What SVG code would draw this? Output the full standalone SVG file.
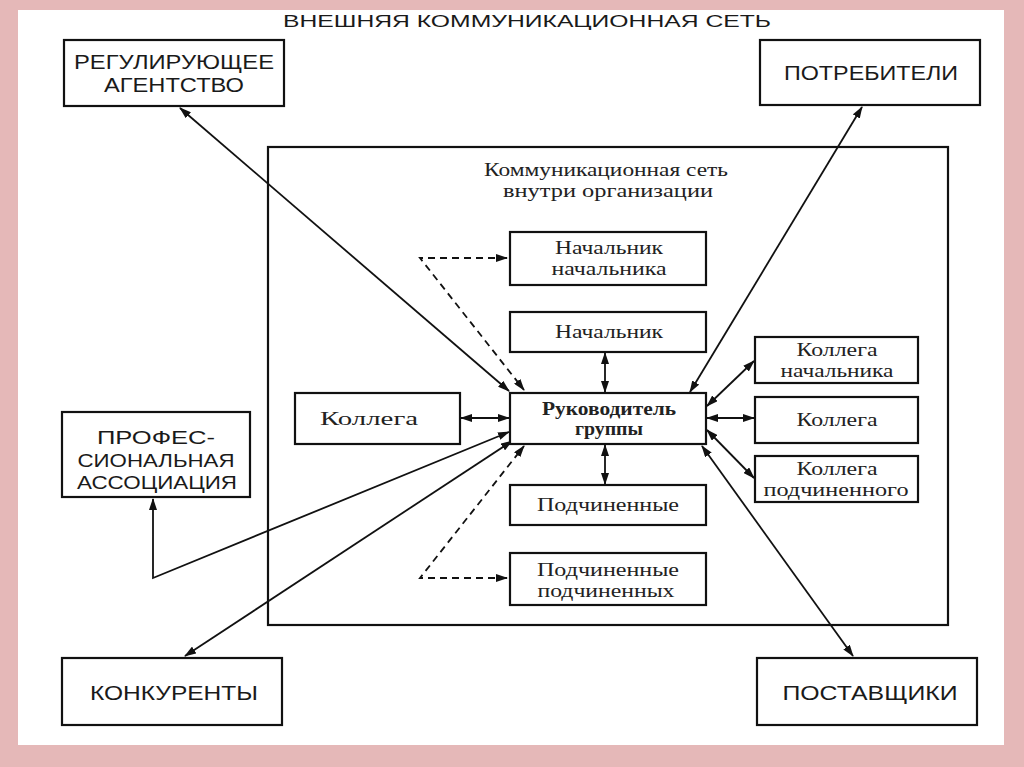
<svg xmlns="http://www.w3.org/2000/svg" width="1024" height="767" viewBox="0 0 1024 767">
<defs>
<marker id="ah" viewBox="0 0 12 8" refX="11" refY="4" markerWidth="12" markerHeight="8" markerUnits="userSpaceOnUse" orient="auto-start-reverse">
<path d="M0,0 L12,4 L0,8 z" fill="#111"/>
</marker>
<style>
.box{fill:#fff;stroke:#111;stroke-width:2.2}
.cap{font-family:"Liberation Sans",Arial,sans-serif;fill:#1a1a1a;text-anchor:middle}
.ser{font-family:"Liberation Serif","Times New Roman",serif;fill:#222;text-anchor:middle;font-size:18px}
.ln{fill:none;stroke:#111;stroke-width:1.8}
.dash{fill:none;stroke:#111;stroke-width:1.8;stroke-dasharray:7 5}
</style>
</defs>
<rect x="0" y="0" width="1024" height="767" fill="#e5b8b8"/>
<rect x="18" y="10" width="986" height="735" fill="#fff"/>

<text class="cap" x="527" y="27" font-size="17" textLength="488" lengthAdjust="spacingAndGlyphs">ВНЕШНЯЯ КОММУНИКАЦИОННАЯ СЕТЬ</text>

<rect x="268" y="147" width="680" height="478" fill="none" stroke="#111" stroke-width="2.2"/>
<text class="ser" x="606" y="176" textLength="244" lengthAdjust="spacingAndGlyphs">Коммуникационная сеть</text>
<text class="ser" x="608" y="197" textLength="210" lengthAdjust="spacingAndGlyphs">внутри организации</text>

<g id="connectors">
<line class="ln" x1="180" y1="108" x2="509" y2="391" marker-start="url(#ah)" marker-end="url(#ah)"/>
<line class="ln" x1="862" y1="107" x2="690" y2="392" marker-start="url(#ah)" marker-end="url(#ah)"/>
<path class="dash" d="M507,258 L420,258 L524,390" marker-start="url(#ah)" marker-end="url(#ah)"/>
<path class="dash" d="M507,578 L420,578 L524,446" marker-start="url(#ah)" marker-end="url(#ah)"/>
<line class="ln" x1="605" y1="353" x2="605" y2="392" marker-start="url(#ah)" marker-end="url(#ah)"/>
<line class="ln" x1="605" y1="445" x2="605" y2="484" marker-start="url(#ah)" marker-end="url(#ah)"/>
<line class="ln" x1="461" y1="418" x2="509" y2="418" marker-start="url(#ah)" marker-end="url(#ah)"/>
<line class="ln" x1="707" y1="418" x2="754" y2="418" marker-start="url(#ah)" marker-end="url(#ah)"/>
<line class="ln" x1="707" y1="406" x2="754" y2="361" marker-start="url(#ah)" marker-end="url(#ah)"/>
<line class="ln" x1="707" y1="430" x2="754" y2="478" marker-start="url(#ah)" marker-end="url(#ah)"/>
<path class="ln" d="M509,432 L153,578 L153,499" marker-start="url(#ah)" marker-end="url(#ah)"/>
<line class="ln" x1="512" y1="441" x2="185" y2="656" marker-start="url(#ah)" marker-end="url(#ah)"/>
<line class="ln" x1="702" y1="446" x2="853" y2="656" marker-start="url(#ah)" marker-end="url(#ah)"/>
</g>

<g id="reg">
<rect class="box" x="64" y="40" width="220" height="66"/>
<text class="cap" x="174" y="69" font-size="20" textLength="200" lengthAdjust="spacingAndGlyphs">РЕГУЛИРУЮЩЕЕ</text>
<text class="cap" x="174" y="92" font-size="20" textLength="140" lengthAdjust="spacingAndGlyphs">АГЕНТСТВО</text>
</g>
<g id="potr">
<rect class="box" x="760" y="40" width="220" height="65"/>
<text class="cap" x="871" y="80" font-size="21" textLength="174" lengthAdjust="spacingAndGlyphs">ПОТРЕБИТЕЛИ</text>
</g>
<g id="prof">
<rect class="box" x="62" y="412" width="188" height="85"/>
<text class="cap" x="156" y="444" font-size="18" textLength="118" lengthAdjust="spacingAndGlyphs">ПРОФЕС-</text>
<text class="cap" x="156" y="467" font-size="18" textLength="157" lengthAdjust="spacingAndGlyphs">СИОНАЛЬНАЯ</text>
<text class="cap" x="157" y="489" font-size="18" textLength="160" lengthAdjust="spacingAndGlyphs">АССОЦИАЦИЯ</text>
</g>
<g id="konk">
<rect class="box" x="62" y="658" width="220" height="67"/>
<text class="cap" x="174" y="700" font-size="21" textLength="168" lengthAdjust="spacingAndGlyphs">КОНКУРЕНТЫ</text>
</g>
<g id="post">
<rect class="box" x="757" y="658" width="220" height="67"/>
<text class="cap" x="870" y="700" font-size="21" textLength="175" lengthAdjust="spacingAndGlyphs">ПОСТАВЩИКИ</text>
</g>

<g id="nachnach">
<rect class="box" x="510" y="232" width="196" height="53"/>
<text class="ser" x="609" y="254" textLength="108" lengthAdjust="spacingAndGlyphs">Начальник</text>
<text class="ser" x="609" y="275" textLength="115" lengthAdjust="spacingAndGlyphs">начальника</text>
</g>
<g id="nach">
<rect class="box" x="510" y="312" width="196" height="40"/>
<text class="ser" x="609" y="338" textLength="108" lengthAdjust="spacingAndGlyphs">Начальник</text>
</g>
<g id="ruk">
<rect class="box" x="510" y="393" width="196" height="51"/>
<text class="ser" x="609" y="415" font-weight="bold" font-size="16" textLength="134" lengthAdjust="spacingAndGlyphs">Руководитель</text>
<text class="ser" x="609" y="435" font-weight="bold" font-size="16" textLength="68" lengthAdjust="spacingAndGlyphs">группы</text>
</g>
<g id="kol-left">
<rect class="box" x="295" y="393" width="165" height="51"/>
<text class="ser" x="369" y="425" textLength="98" lengthAdjust="spacingAndGlyphs">Коллега</text>
</g>
<g id="podch">
<rect class="box" x="510" y="485" width="196" height="40"/>
<text class="ser" x="608" y="511" textLength="142" lengthAdjust="spacingAndGlyphs">Подчиненные</text>
</g>
<g id="podchpodch">
<rect class="box" x="510" y="553" width="196" height="52"/>
<text class="ser" x="608" y="576" textLength="142" lengthAdjust="spacingAndGlyphs">Подчиненные</text>
<text class="ser" x="606" y="597" textLength="137" lengthAdjust="spacingAndGlyphs">подчиненных</text>
</g>
<g id="kolnach">
<rect class="box" x="755" y="337" width="163" height="46"/>
<text class="ser" x="837" y="356" textLength="81" lengthAdjust="spacingAndGlyphs">Коллега</text>
<text class="ser" x="837" y="377" textLength="113" lengthAdjust="spacingAndGlyphs">начальника</text>
</g>
<g id="kol-right">
<rect class="box" x="755" y="397" width="163" height="46"/>
<text class="ser" x="837" y="426" textLength="81" lengthAdjust="spacingAndGlyphs">Коллега</text>
</g>
<g id="kolpodch">
<rect class="box" x="755" y="456" width="163" height="46"/>
<text class="ser" x="837" y="475" textLength="81" lengthAdjust="spacingAndGlyphs">Коллега</text>
<text class="ser" x="836" y="496" textLength="145" lengthAdjust="spacingAndGlyphs">подчиненного</text>
</g>
</svg>
